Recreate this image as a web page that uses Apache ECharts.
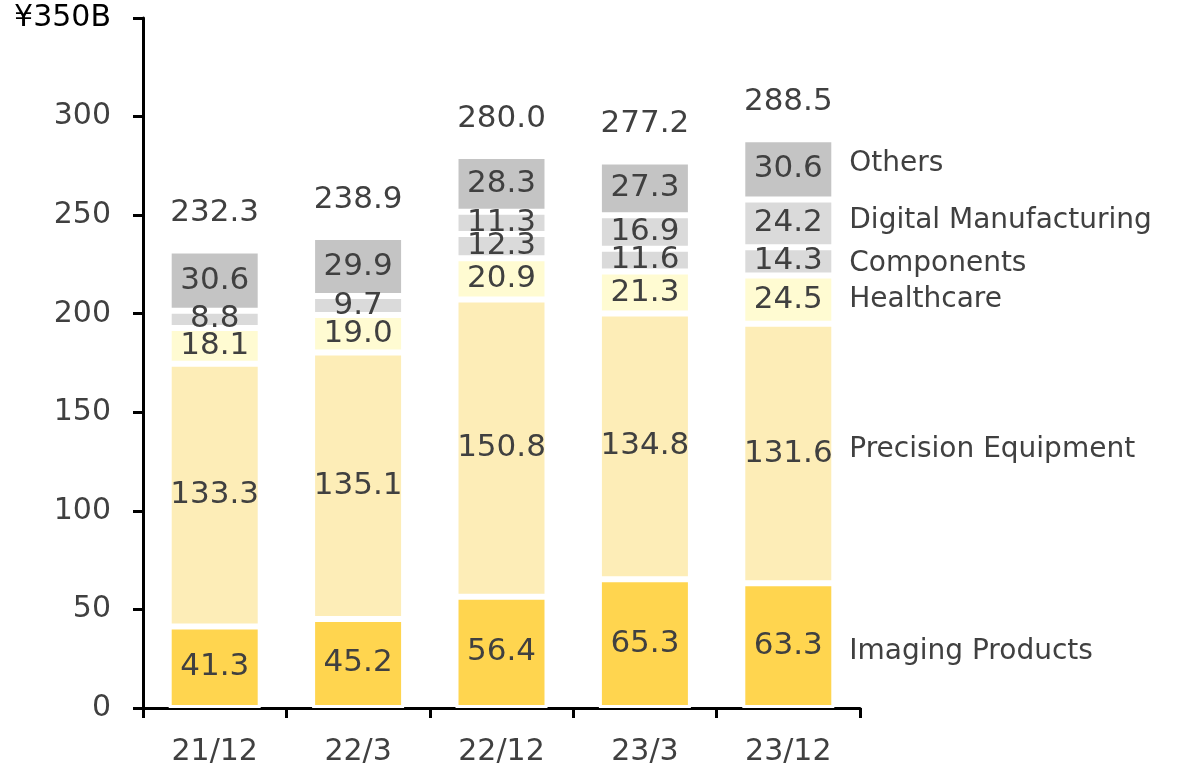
<!DOCTYPE html>
<html>
<head>
<meta charset="utf-8">
<script src="https://cdn.jsdelivr.net/npm/echarts@6/dist/echarts.min.js"></script>
<style>
  html, body { margin: 0; padding: 0; background: #fff; }
  #chart { width: 1178px; height: 772px; }
</style>
</head>
<body>
<div id="chart"></div>
<script>
var periods = ['21/12', '22/3', '22/12', '23/3', '23/12'];
var segmentNames = ['Imaging Products', 'Precision Equipment', 'Healthcare', 'Components', 'Digital Manufacturing', 'Others'];
var imaging = [41.3, 45.2, 56.4, 65.3, 63.3];
var precision = [133.3, 135.1, 150.8, 134.8, 131.6];
var healthcare = [18.1, 19.0, 20.9, 21.3, 24.5];
var components = [8.8, 9.7, 12.3, 11.6, 14.3];
var digital = [null, null, 11.3, 16.9, 24.2];
var others = [30.6, 29.9, 28.3, 27.3, 30.6];
var totals = [232.3, 238.9, 280.0, 277.2, 288.5];
var yTicks = [0, 50, 100, 150, 200, 250, 300, 350];

var segColors = ['#FFD54F', '#FDEDB7', '#FFFBD2', '#DADADA', '#DADADA', '#C4C4C4'];
var nameNudge = [6, -4, 0, 2, -3, -6];   // small vertical tweaks for the side names
var segData = [imaging, precision, healthcare, components, digital, others];
var txt = '#404040';
var fontFam = 'DejaVu Sans';

var chart = echarts.init(document.getElementById('chart'));

var series = segData.map(function (arr, i) {
    return {
        name: segmentNames[i],
        type: 'bar',
        stack: 'sales',
        barWidth: 92,
        data: arr,
        itemStyle: { color: segColors[i], borderColor: '#fff', borderWidth: 3 },
        label: {
            show: true,
            position: 'inside',
            color: txt,
            fontSize: 31,
            fontFamily: fontFam,
            formatter: function (p) { return p.value == null ? '' : p.value.toFixed(1); }
        },
        emphasis: { disabled: true }
    };
});

// totals on top of each bar
series.push({
    type: 'bar',
    stack: 'sales',
    data: totals.map(function () { return 0; }),
    itemStyle: { color: 'transparent' },
    label: {
        show: true,
        position: 'top',
        distance: 22,
        color: txt,
        fontSize: 31,
        fontFamily: fontFam,
        formatter: function (p) { return totals[p.dataIndex].toFixed(1); }
    },
    emphasis: { disabled: true }
});

// segment names beside the last bar, at the middle of each segment
var last = periods.length - 1;
var base = 0;
var nameMarks = [];
segData.forEach(function (arr, i) {
    var v = arr[last] || 0;
    nameMarks.push({
        value: [last, base + v / 2],
        name: segmentNames[i],
        label: { offset: [0, nameNudge[i]] }
    });
    base += v;
});
series.push({
    type: 'scatter',
    symbolSize: 0,
    data: nameMarks,
    itemStyle: { opacity: 1 },
    label: {
        show: true,
        position: 'right',
        distance: 61,
        color: txt,
        fontSize: 28,
        fontFamily: fontFam,
        formatter: function (p) { return p.name; }
    },
    emphasis: { disabled: true },
    silent: true
});

var option = {
    animation: false,
    grid: { left: 143, right: 318, top: 18, bottom: 64 },
    xAxis: {
        type: 'category',
        data: periods,
        axisLine: { lineStyle: { color: '#000', width: 3 } },
        axisTick: { show: true, length: 10, lineStyle: { color: '#000', width: 3 } },
        axisLabel: { color: txt, fontSize: 30, fontFamily: fontFam, margin: 29 }
    },
    yAxis: {
        type: 'value',
        min: yTicks[0],
        max: yTicks[yTicks.length - 1],
        interval: 50,
        splitLine: { show: false },
        axisLine: { show: true, lineStyle: { color: '#000', width: 3 } },
        axisTick: { show: true, length: 10, lineStyle: { color: '#000', width: 3 } },
        axisLabel: {
            color: txt,
            fontSize: 30,
            fontFamily: fontFam,
            margin: 32,
            formatter: function (v) { return v === 350 ? '{top|¥350B}' : String(v); },
            rich: { top: { color: '#000', fontSize: 30, fontFamily: fontFam } }
        }
    },
    series: series
};
chart.setOption(option);
</script>
</body>
</html>
